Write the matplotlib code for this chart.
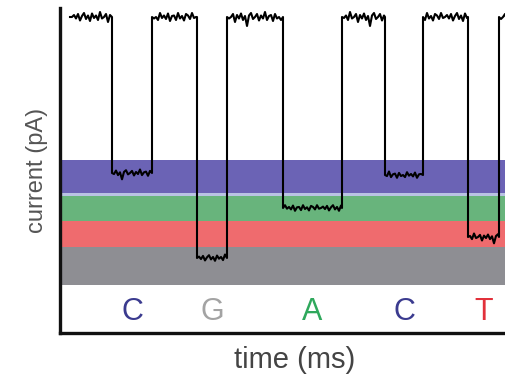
import numpy as np
import matplotlib.pyplot as plt

plt.rcParams['font.family'] = ['Liberation Sans', 'DejaVu Sans']

# nanopore trace: open-pore level and the five blockade events
bases = ["C", "G", "A", "C", "T"]
event_start = [52, 137, 223, 325, 408]
event_end = [92, 167, 282, 363, 439]
event_level = [160, 75, 125, 158, 96]
open_level = 316
trace_start, trace_end = 10, 470

# reference bands for each base (current ranges)
band_low = [48, 86, 112, 140]
band_high = [86, 112, 137, 173]
band_colors = ["#8e8e93", "#ef6b6e", "#68b47c", "#6b63b5"]
base_colors = {"C": "#3b3b8f", "G": "#a3a3a3", "A": "#2fa85c", "T": "#e2313b"}

# hand-read jitter on the plateaus
noise = [0, 2, -1.5, 3, -3.5, 1, 4, -2, 1.5, -4, 3.5, -1, 1.5, -3, 5, -1.5,
         0, 3, -5, 2, -1.5, 3.5, -3, 1, -9, 1.5, 4, -2, 0, 3, -3.5, 1.5,
         -1.5, 5, -3, 1, 2, -4, 3, -1.5, 0, -3, 4, -1, 1.5, -2, 3.5, -4,
         1, 1.5, -3, 4, -1.5, 1, -3.5, 3, 1.5, -2, 4, -1]

# build the trace from plateaus
edges = [trace_start]
levels = []
for s, e, lv in zip(event_start, event_end, event_level):
    levels.append(open_level)
    edges.append(s)
    levels.append(lv)
    edges.append(e)
levels.append(open_level)
edges.append(trace_end)

xs, ys = [], []
k = 0
for i, lv in enumerate(levels):
    x0, x1 = edges[i], edges[i + 1]
    px = np.arange(x0, x1, 2.0).tolist() + [x1]
    amp = 1.0 if lv == open_level else 0.7
    for j, x in enumerate(px):
        if j == 0 or j == len(px) - 1:
            dy = 0
        else:
            dy = noise[k % len(noise)] * amp
            k += 1
        xs.append(x)
        ys.append(lv + dy)

fig = plt.figure(figsize=(5.05, 3.77), dpi=100)
ax = fig.add_axes([60 / 505, 44 / 377, 470 / 505, 325 / 377])

for lo, hi, c in zip(band_low, band_high, band_colors):
    ax.axhspan(lo, hi, color=c, lw=0, zorder=1)
ax.axhspan(137, 140, color="#b9c3e3", lw=0, zorder=1)

ax.plot(xs, ys, color="black", lw=1.5, zorder=3)

for b, s, e in zip(bases, event_start, event_end):
    ax.text((s + e) / 2, 21, b, color=base_colors[b], fontsize=22,
            ha="center", va="center", zorder=4)

ax.set_xlim(0, 470)
ax.set_ylim(0, 325)
ax.set_xticks([])
ax.set_yticks([])
for side in ["top", "right"]:
    ax.spines[side].set_visible(False)
for side in ["left", "bottom"]:
    ax.spines[side].set_linewidth(2.4)
    ax.spines[side].set_color("#111111")

ax.set_ylabel("current (pA)", fontsize=17, color="#555555")
ax.set_xlabel("time (ms)", fontsize=21, color="#444444")
ax.yaxis.set_label_coords(-0.025, 0.5)
ax.xaxis.set_label_coords(0.5, -0.04)

fig.savefig("out.png", dpi=100)
